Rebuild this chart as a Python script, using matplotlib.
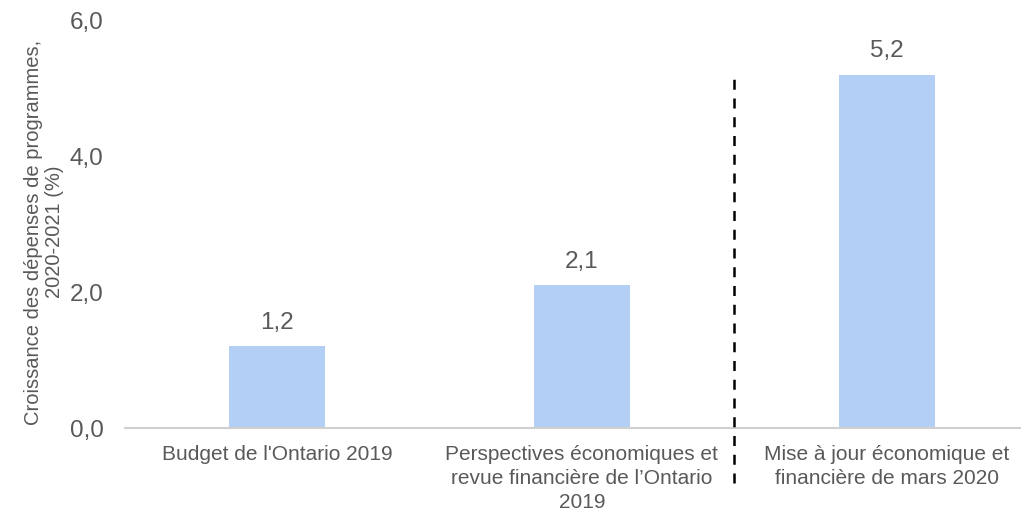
import matplotlib
matplotlib.use("Agg")
import matplotlib.pyplot as plt
import numpy as np

plt.rcParams['font.family'] = ['Liberation Sans', 'DejaVu Sans']

categories = ["Budget de l'Ontario 2019",
              "Perspectives économiques et\nrevue financière de l’Ontario\n2019",
              "Mise à jour économique et\nfinancière de mars 2020"]
values = [1.2, 2.1, 5.2]
value_labels = ["1,2", "2,1", "5,2"]
yticks = [0, 2, 4, 6]
ytick_labels = ["0,0", "2,0", "4,0", "6,0"]

grey = "#595959"
bar_color = "#b4cff5"

fig = plt.figure(figsize=(10.21, 5.16), dpi=100)
ax = fig.add_axes([0.122, 0.1705, 0.878, 0.7905])

x = np.arange(len(categories))
ax.bar(x, values, width=0.315, color=bar_color, zorder=2)
for xi, v, lab in zip(x, values, value_labels):
    ax.text(xi, v + 0.18, lab, ha='center', va='bottom', fontsize=17.5, color=grey)

# separator between forecasts
ax.plot([1.5, 1.5], [-0.81, 5.15], linestyle=(0, (4, 3.5)), color='black',
        linewidth=1.8, clip_on=False, zorder=3)

ax.set_xlim(-0.5, 2.44)
ax.set_ylim(0, 6)
ax.set_xticks(x)
ax.set_xticklabels(categories, fontsize=15, color=grey, linespacing=1.35)
ax.set_yticks(yticks)
ax.set_yticklabels(ytick_labels, fontsize=17.5, color=grey)
ax.tick_params(axis='both', length=0)
ax.tick_params(axis='x', pad=12)
ax.tick_params(axis='y', pad=15)

for s in ['left', 'right', 'top']:
    ax.spines[s].set_visible(False)
ax.spines['bottom'].set_color('#d0d0d0')
ax.spines['bottom'].set_linewidth(1.5)

ax.set_ylabel("Croissance des dépenses de programmes,\n2020-2021 (%)",
              fontsize=14.5, color=grey, linespacing=1.1)
ax.yaxis.set_label_coords(-0.068, 0.48)

plt.savefig("out.png", dpi=100)
